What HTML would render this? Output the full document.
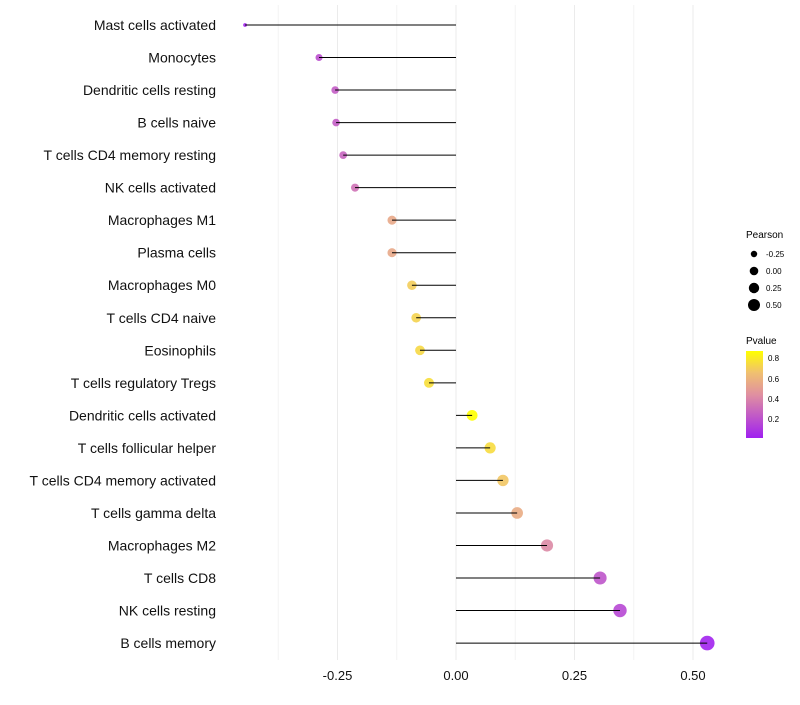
<!DOCTYPE html>
<html><head><meta charset="utf-8"><style>
body{margin:0;background:#fff;font-family:"Liberation Sans",sans-serif}
</style></head><body>
<svg id="chart" width="800" height="700" xmlns="http://www.w3.org/2000/svg">
<defs><linearGradient id="pg" x1="0" y1="1" x2="0" y2="0">
<stop offset="0" stop-color="#a020f0"/><stop offset="0.5" stop-color="#e090a0"/><stop offset="0.75" stop-color="#f0c070"/><stop offset="1" stop-color="#ffff00"/></linearGradient></defs>
<g id="grid"></g><g id="marks"></g><g id="labels"></g>
<g font-size="10">
<text x="746" y="238" font-size="10">Pearson</text>
<circle cx="754" cy="254" r="3.2"/><text x="766" y="257" font-size="8">-0.25</text>
<circle cx="754" cy="271" r="4.3"/><text x="766" y="274" font-size="8">0.00</text>
<circle cx="754" cy="288" r="5.2"/><text x="766" y="291" font-size="8">0.25</text>
<circle cx="754" cy="305" r="6"/><text x="766" y="308" font-size="8">0.50</text>
</g>
<g>
<text x="746" y="344" font-size="10">Pvalue</text>
<rect x="746" y="351" width="17" height="87" fill="url(#pg)"/>
<text x="768" y="361" font-size="8">0.8</text>
<text x="768" y="382" font-size="8">0.6</text>
<text x="768" y="402" font-size="8">0.4</text>
<text x="768" y="422" font-size="8">0.2</text>
</g>
</svg>
<script>
const categories=["Mast cells activated","Monocytes","Dendritic cells resting","B cells naive","T cells CD4 memory resting","NK cells activated","Macrophages M1","Plasma cells","Macrophages M0","T cells CD4 naive","Eosinophils","T cells regulatory  Tregs ","Dendritic cells activated","T cells follicular helper","T cells CD4 memory activated","T cells gamma delta","Macrophages M2","T cells CD8","NK cells resting","B cells memory"];
const pearson=[-0.445,-0.289,-0.255,-0.253,-0.238,-0.213,-0.135,-0.135,-0.093,-0.084,-0.076,-0.057,0.034,0.072,0.099,0.129,0.192,0.304,0.346,0.530];
const pvalue=[0.03,0.2,0.25,0.25,0.28,0.33,0.55,0.55,0.7,0.72,0.74,0.76,0.87,0.75,0.68,0.57,0.42,0.22,0.17,0.03];
const xTicks=[-0.25,0,0.25,0.5];
const xTickLabels=["-0.25","0.00","0.25","0.50"];
const NS="http://www.w3.org/2000/svg";
const x=v=>456+v*474;
const y=i=>25+i*32.53;
function col(p){const t=Math.max(0,Math.min(1,(p-0.02)/0.85));
 const s=[[160,32,240],[224,144,160],[240,192,112],[255,255,0]],o=[0,0.5,0.75,1];
 let k=0;while(k<2&&t>o[k+1])k++;
 const u=(t-o[k])/(o[k+1]-o[k]),a=s[k],b=s[k+1];
 return `rgb(${a.map((c,j)=>Math.round(c+(b[j]-c)*u)).join(",")})`;}
const rad=v=>Math.sqrt(Math.max(1,2+46*(v+0.445)))+0.5;
function mk(tag,attrs,parent){const e=document.createElementNS(NS,tag);for(const k in attrs)e.setAttribute(k,attrs[k]);parent.appendChild(e);return e;}
const grid=document.getElementById('grid'),marks=document.getElementById('marks'),labels=document.getElementById('labels');
for(let v=-0.375;v<=0.55;v+=0.125){const g=mk('line',{x1:x(v),x2:x(v),y1:5,y2:660,stroke:Math.abs((v*4)%1)<1e-6?'#ebebeb':'#f3f3f3','stroke-width':1},grid);

}
xTicks.forEach((v,i)=>{const t=mk('text',{x:x(v),y:680,'text-anchor':'middle','font-size':13,fill:'#111'},labels);t.textContent=xTickLabels[i];

});
categories.forEach((c,i)=>{
 const t=mk('text',{x:216,y:y(i)+5,'text-anchor':'end','font-size':14,fill:'#111'},labels);t.textContent=c;
 
 
 const p=mk('circle',{cx:x(pearson[i]),cy:y(i),r:rad(pearson[i]),fill:col(pvalue[i]),'fill-opacity':0.9},marks);
 
 
 const l=mk('line',{x1:x(0),x2:x(pearson[i]),y1:y(i),y2:y(i),stroke:'#000','stroke-width':1},marks);
 
 
});
</script>
</body></html>
